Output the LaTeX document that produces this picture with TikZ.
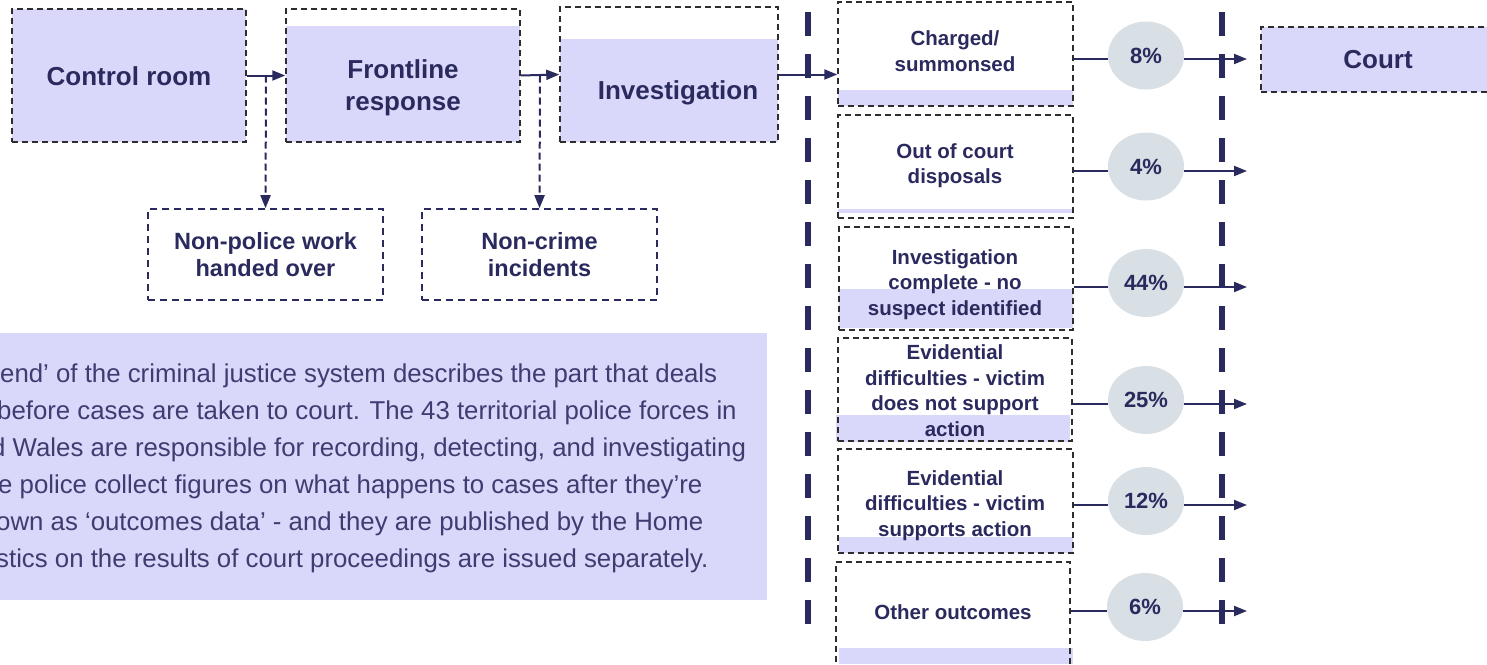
\documentclass[tikz,border=0pt]{standalone}
\usepackage{fontspec}
\setmainfont{Liberation Sans}
\usetikzlibrary{arrows.meta,shapes.geometric}
\definecolor{ink}{RGB}{43,42,94}
\definecolor{prose}{RGB}{62,60,112}
\definecolor{lav}{RGB}{217,216,250}
\definecolor{bubble}{RGB}{216,224,230}
\definecolor{edge}{RGB}{45,45,45}

\begin{document}
\begin{tikzpicture}[x=1pt,y=-1pt,
  outline/.style={draw=edge, line width=1.5pt, dash pattern=on 6pt off 4pt, inner sep=0pt},
  subbox/.style={draw=ink, line width=1.6pt, dash pattern=on 7pt off 5pt, inner sep=0pt,
    minimum width=235pt, minimum height=91pt, text=ink, align=center,
    font=\bfseries\fontsize{23.5}{27}\selectfont},
  maintext/.style={text=ink, align=center, inner sep=0pt, font=\bfseries\fontsize{26}{32}\selectfont},
  outtext/.style={text=ink, align=center, inner sep=0pt, font=\bfseries\fontsize{20.5}{25.5}\selectfont},
  share/.style={ellipse, fill=bubble, minimum width=76pt, minimum height=68pt, inner sep=0pt,
    text=ink, font=\bfseries\fontsize{22}{24}\selectfont},
  tip/.style={-{Triangle[length=13pt,width=10pt]}},
  flow/.style={draw=ink, line width=2pt, tip},
  plain/.style={draw=ink, line width=2pt},
  drop/.style={draw=ink, line width=2pt, dash pattern=on 7pt off 4pt, tip},
  divider/.style={draw=ink, line width=6pt, dash pattern=on 24pt off 18pt},
  proseline/.style={anchor=base west, inner sep=0pt, text=prose, font=\fontsize{25.8}{37}\selectfont},
]
\clip (0,0) rectangle (1487,664);
\fill[white] (0,0) rectangle (1487,664);

% ---------- front end: control room, frontline response, investigation ----------
\fill[lav] (12,9) rectangle (246,142);
\fill[lav] (286,26) rectangle (520,142);
\fill[lav] (560,39) rectangle (778,142);

\node[outline, minimum width=234pt, minimum height=133pt] (ctrl) at (129,75.5) {};
\node[outline, minimum width=234pt, minimum height=133pt] (front) at (403,75.5) {};
\node[outline, minimum width=218pt, minimum height=135pt] (inv) at (669,74.5) {};

\node[maintext] (ctrltxt) at (129,76) {Control room};
\node[maintext] (fronttxt) at (403,88) {Frontline\\response};
\node[maintext] (invtxt) at (678,93) {Investigation};

% ---------- work that leaves the process ----------
\node[subbox] (np) at (265.5,254.5) {Non-police work\\handed over};
\node[subbox] (nc) at (539.5,254.5) {Non-crime\\incidents};

\coordinate (j1) at (266,75.5);
\coordinate (j2) at (540,75.5);
\draw[flow] (ctrl.east) -- (front.west);
\draw[flow] (front.east) -- (inv.west);
\draw[drop] (j1) -- (np.north);
\draw[drop] (j2) -- (nc.north);

% ---------- explanatory panel ----------
\fill[lav] (0,333) rectangle (767,600);
\begin{scope}
\clip (0,333) rectangle (767,600);
\node[proseline] (p1) at (0,382) {end’ of the criminal justice system describes the part that deals};
\node[proseline] (p2) at (-3,419) {before cases are taken to court. The 43 territorial police forces in};
\node[proseline] (p3) at (-9,456) {d Wales are responsible for recording, detecting, and investigating};
\node[proseline] (p4) at (-2,493) {e police collect figures on what happens to cases after they’re};
\node[proseline] (p5) at (-4,530) {own as ‘outcomes data’ - and they are published by the Home};
\node[proseline] (p6) at (-4,567) {stics on the results of court proceedings are issued separately.};
\end{scope}

% ---------- dividers either side of the outcomes ----------
\coordinate (d1top) at (808,12);
\coordinate (d1bot) at (808,640);
\coordinate (d2top) at (1222,12);
\coordinate (d2bot) at (1222,640);
\draw[divider] (d1top) -- (d1bot);
\draw[divider] (d2top) -- (d2bot);

% ---------- outcome bars ----------
\fill[lav] (838,90) rectangle (1073,106);
\fill[lav] (838,209) rectangle (1073,212.5);
\fill[lav] (839,289) rectangle (1073,328);
\fill[lav] (836,415) rectangle (1070,442);
\fill[lav] (839,537) rectangle (1073,553);
\fill[lav] (839,648) rectangle (1073,664);

% ---------- outcome boxes ----------
\node[outline, minimum width=235pt, minimum height=104pt] (o1) at (955.5,54) {};
\node[outline, minimum width=235pt, minimum height=103pt] (o2) at (955.5,166.5) {};
\node[outline, minimum width=234pt, minimum height=103pt] (o3) at (956,278.5) {};
\node[outline, minimum width=234pt, minimum height=103pt] (o4) at (955,389.5) {};
\node[outline, minimum width=235pt, minimum height=104pt] (o5) at (955.5,501) {};
\node[outline, minimum width=234pt, minimum height=138pt] (o6) at (953,631) {};

\node[outtext] (o1txt) at (955,51) {Charged/\\summonsed};
\node[outtext] (o2txt) at (955,165.5) {Out of court\\disposals};
\node[outtext] (o3txt) at (955,284.5) {Investigation\\complete - no\\suspect identified};
\node[outtext] (o4txt) at (955,390.5) {Evidential\\difficulties - victim\\does not support\\action};
\node[outtext] (o5txt) at (955,505.5) {Evidential\\difficulties - victim\\supports action};
\node[outtext] (o6txt) at (953,612) {Other outcomes};

\draw[flow] (inv.east) -- (inv.east -| o1.west);

% ---------- shares of outcomes ----------
\coordinate (r1) at (0,59);
\coordinate (r2) at (0,171);
\coordinate (r3) at (0,287);
\coordinate (r4) at (0,404);
\coordinate (r5) at (0,505);
\coordinate (r6) at (0,611);

\node[share] (s1) at (1146,55.5) {8\%};
\node[share] (s2) at (1146,166.5) {4\%};
\node[share] (s3) at (1146,283) {44\%};
\node[share] (s4) at (1146,400) {25\%};
\node[share] (s5) at (1146,501) {12\%};
\node[share] (s6) at (1145,607) {6\%};

\foreach \i in {1,...,6}{
  \coordinate (e\i) at (1247,0);
  \draw[plain] (o\i.east |- r\i) -- (s\i.west |- r\i);
  \draw[flow] (s\i.east |- r\i) -- (e\i |- r\i);
}

% ---------- court ----------
\fill[lav] (1261,27) rectangle (1500,92);
\node[outline, minimum width=239pt, minimum height=65pt] (court) at (1380.5,59.5) {};
\node[maintext] (courttxt) at (1378,60) {Court};
\end{tikzpicture}
\end{document}
